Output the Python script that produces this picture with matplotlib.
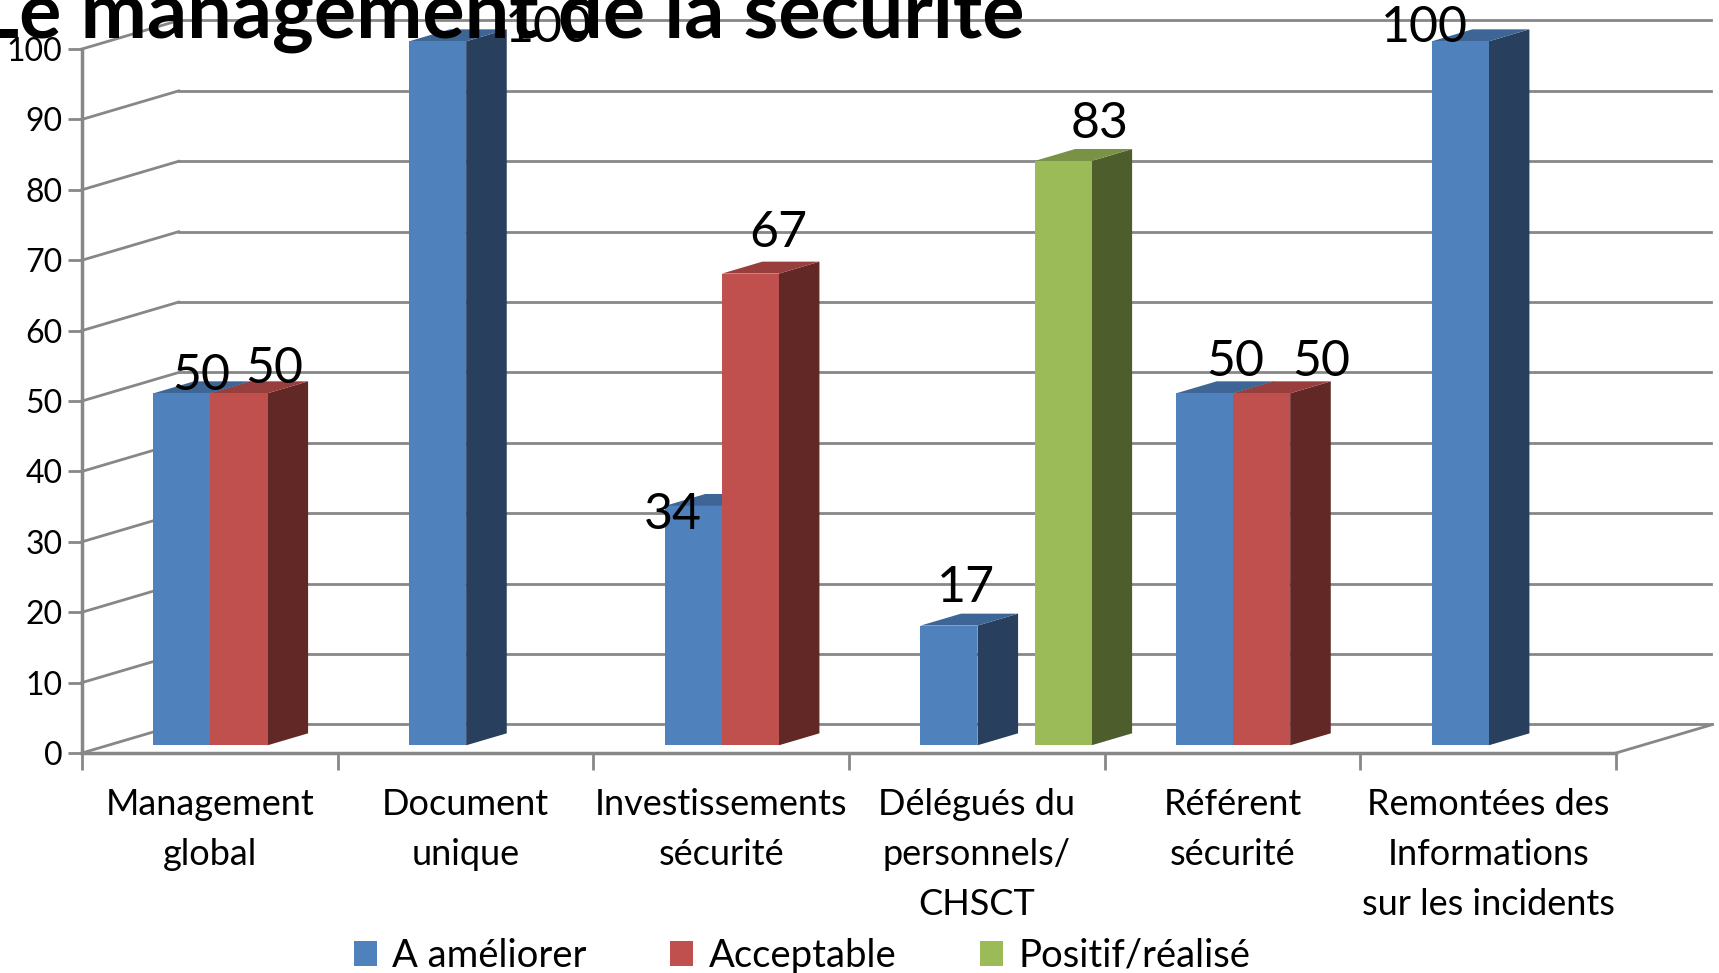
import matplotlib
matplotlib.use("Agg")
import matplotlib.pyplot as plt
from matplotlib.patches import Polygon, Rectangle

plt.rcParams['font.family'] = ['Lato', 'DejaVu Sans']

categories = ["Management\nglobal", "Document\nunique", "Investissements\nsécurité",
              "Délégués du\npersonnels/\nCHSCT", "Référent\nsécurité",
              "Remontées des\nInformations\nsur les incidents"]
series = ["A améliorer", "Acceptable", "Positif/réalisé"]
a_ameliorer = [50, 100, 34, 17, 50, 100]
acceptable = [50, 0, 67, 0, 50, 0]
positif = [0, 0, 0, 83, 0, 0]
values = [a_ameliorer, acceptable, positif]

front = ["#4F81BD", "#C0504D", "#9BBB59"]
side = ["#283F5E", "#612826", "#4E5D2C"]
top = ["#3D6595", "#983E3C", "#7A9246"]
grid_c = "#878787"

# depth geometry (in data units of the front plane)
DX, DY = 0.378, 4.05
D0, D1 = 0.27, 0.69
W = 0.223
XS = 0.012

# label tweaks (dx, dy) like Excel's placement
lab_off = {(0, 0): (0.074, 2.4), (1, 0): (0.139, 3.5), (0, 1): (0.433, 1.9),
           (0, 2): (-0.082, -1.3), (1, 2): (0.108, 5.7), (0, 3): (0.067, 5.4),
           (2, 3): (0.142, 5.3), (0, 4): (0.118, 4.5), (1, 4): (0.235, 4.5),
           (0, 5): (-0.14, 1.9)}

fig = plt.figure(figsize=(17.19, 9.73), dpi=100)
W_PX, H_PX = 1719, 973
ax = fig.add_axes([82 / W_PX, (H_PX - 753) / H_PX, (1616 - 82) / W_PX, (753 - 49) / H_PX])
ax.set_xlim(-0.5, 5.5)
ax.set_ylim(0, 100)

def p(x, y, d):
    return (x + d * DX, y + d * DY)

# back wall gridlines + left wall obliques
for g in range(0, 101, 10):
    ax.plot([-0.5, p(-0.5, g, 1)[0]], [g, p(-0.5, g, 1)[1]], color=grid_c, lw=2, clip_on=False, zorder=1)
    ax.plot([p(-0.5, g, 1)[0], 5.5 + 0.37], [g + DY, g + DY], color=grid_c, lw=2, clip_on=False, zorder=1)
# floor right edge
ax.plot([5.5, 5.5 + DX], [0, DY], color=grid_c, lw=2, clip_on=False, zorder=1)

# bars
for k in range(3):
    for i, v in enumerate(values[k]):
        if v == 0:
            continue
        x0 = i - 1.5 * W + k * W + XS
        x1 = x0 + W
        fa = [p(x0, 0, D0), p(x1, 0, D0), p(x1, v, D0), p(x0, v, D0)]
        sa = [p(x1, 0, D0), p(x1, 0, D1), p(x1, v, D1), p(x1, v, D0)]
        ta = [p(x0, v, D0), p(x1, v, D0), p(x1, v, D1), p(x0, v, D1)]
        z = 3 + i * 0.1 + k * 0.01
        ax.add_patch(Polygon(sa, closed=True, fc=side[k], ec='none', clip_on=False, zorder=z))
        ax.add_patch(Polygon(ta, closed=True, fc=top[k], ec='none', clip_on=False, zorder=z))
        ax.add_patch(Polygon(fa, closed=True, fc=front[k], ec='none', clip_on=False, zorder=z + 0.005))
        dx, dy = lab_off[(k, i)]
        cx = (x0 + x1) / 2 + D0 * DX
        ax.text(cx + dx, v + D0 * DY + dy, str(v), ha='center', va='center',
                fontsize=36, color='black', zorder=10, clip_on=False)

# axes
for s in ['top', 'right']:
    ax.spines[s].set_visible(False)
for s in ['left', 'bottom']:
    ax.spines[s].set_color(grid_c)
    ax.spines[s].set_linewidth(2.5)
    ax.spines[s].set_zorder(2)
ax.set_yticks(range(0, 101, 10))
ax.tick_params(axis='y', length=10, width=2, color=grid_c, labelsize=23, pad=4)
ax.set_xticks([i - 0.5 for i in range(7)])
ax.set_xticklabels([])
ax.tick_params(axis='x', which='major', length=12, width=2, color=grid_c)
ax.set_xticks(range(6), minor=True)
ax.set_xticklabels(categories, minor=True, fontsize=26, linespacing=1.63)
ax.tick_params(axis='x', which='minor', length=0, pad=25)
ax.set_facecolor('none')

# legend
handles = [Rectangle((0, 0), 1, 1, fc=c, ec='none') for c in front]
fig.legend(handles, series, loc='center', bbox_to_anchor=(802 / W_PX, 1 - 956 / H_PX),
           ncol=3, frameon=False, fontsize=27.5, handlelength=0.6, handleheight=0.6,
           handletextpad=0.4, columnspacing=2.2)

fig.text(-22 / W_PX, 1 - 38 / H_PX, "Le management de la sécurité", fontsize=57,
         fontweight='bold', ha='left', va='baseline')

fig.savefig("out.png", dpi=100)
